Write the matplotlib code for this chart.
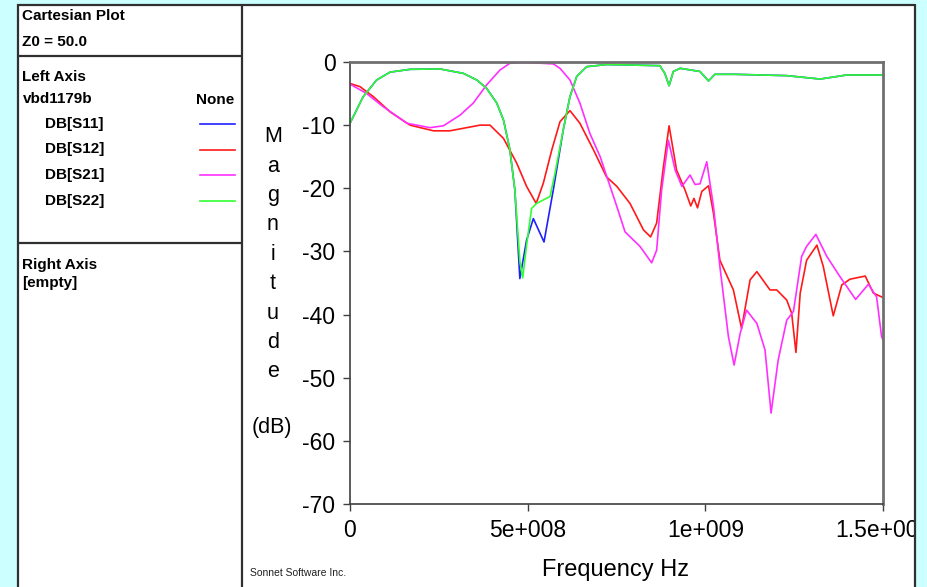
import matplotlib
matplotlib.use('Agg')
import matplotlib.pyplot as plt
from matplotlib.patches import Rectangle
from matplotlib.lines import Line2D
import numpy as np

# ---------------- data (frequency in GHz, magnitude in dB) ----------------
s11_f = [0, 0.037, 0.075, 0.113, 0.169, 0.253, 0.319, 0.357, 0.385, 0.413, 0.432,
         0.450, 0.464, 0.478, 0.497, 0.516, 0.546, 0.572, 0.600, 0.619, 0.638, 0.666,
         0.722, 0.872, 0.886, 0.898, 0.910, 0.929, 0.985, 1.009, 1.027, 1.083, 1.229,
         1.323, 1.398, 1.5]
s11_db = [-9.7, -5.5, -2.85, -1.6, -1.16, -1.1, -1.8, -2.85, -4.2, -6.5, -9.2,
          -13.9, -20.3, -34.3, -28.2, -24.8, -28.5, -20.3, -10.8, -5.5, -2.3, -0.74,
          -0.4, -0.58, -1.8, -3.75, -1.5, -1.0, -1.5, -3.0, -1.95, -1.95, -2.16,
          -2.7, -2.06, -2.06]

s12_f = [0, 0.028, 0.066, 0.113, 0.169, 0.235, 0.281, 0.366, 0.394, 0.432, 0.469,
         0.497, 0.524, 0.544, 0.568, 0.591, 0.619, 0.647, 0.685, 0.722, 0.751, 0.788,
         0.826, 0.846, 0.863, 0.882, 0.898, 0.919, 0.943, 0.959, 0.968, 0.978, 0.990,
         1.009, 1.023, 1.041, 1.079, 1.102, 1.126, 1.145, 1.182, 1.201, 1.229, 1.243,
         1.255, 1.267, 1.285, 1.314, 1.332, 1.360, 1.384, 1.407, 1.450, 1.473, 1.5]
s12_db = [-3.4, -3.9, -5.5, -7.9, -10.0, -10.9, -10.9, -10.0, -10.0, -12.1, -16.0,
          -19.7, -22.4, -19.2, -13.9, -9.45, -7.7, -9.7, -13.9, -18.2, -19.7, -22.4,
          -26.6, -27.7, -25.5, -16.6, -10.1, -17.1, -20.3, -22.8, -21.6, -23.1, -20.5,
          -19.6, -24.0, -31.4, -36.1, -42.2, -34.5, -33.2, -36.1, -36.1, -37.7, -39.8,
          -46.0, -36.6, -31.4, -29.0, -32.4, -40.2, -35.3, -34.4, -33.9, -36.6, -37.3]

s21_f = [0, 0.047, 0.094, 0.160, 0.225, 0.263, 0.310, 0.347, 0.385, 0.422, 0.450,
         0.488, 0.572, 0.591, 0.619, 0.647, 0.675, 0.704, 0.732, 0.751, 0.774, 0.816,
         0.849, 0.863, 0.877, 0.896, 0.915, 0.934, 0.957, 0.971, 0.985, 1.004, 1.023,
         1.041, 1.065, 1.081, 1.098, 1.116, 1.145, 1.168, 1.185, 1.205, 1.229, 1.248,
         1.271, 1.285, 1.311, 1.342, 1.379, 1.423, 1.459, 1.482, 1.496, 1.5]
s21_db = [-3.5, -5.0, -7.1, -9.7, -10.4, -10.1, -8.4, -6.5, -3.6, -1.27, -0.2,
          -0.05, -0.3, -1.0, -2.85, -6.5, -11.3, -15.0, -19.7, -22.9, -26.9, -29.2,
          -31.8, -29.8, -20.3, -12.4, -17.1, -19.7, -17.9, -19.4, -19.3, -15.8, -22.9,
          -32.4, -43.5, -48.0, -43.0, -39.3, -41.4, -45.6, -55.6, -47.2, -40.9, -39.5,
          -30.8, -29.2, -27.3, -30.8, -34.0, -37.6, -35.2, -37.2, -43.5, -44.0]

s22_f = [0, 0.037, 0.075, 0.113, 0.169, 0.253, 0.319, 0.357, 0.385, 0.413, 0.432,
         0.450, 0.464, 0.478, 0.486, 0.497, 0.511, 0.525, 0.563, 0.577, 0.600, 0.619,
         0.638, 0.666, 0.722, 0.872, 0.886, 0.898, 0.910, 0.929, 0.985, 1.009, 1.027,
         1.083, 1.229, 1.323, 1.398, 1.5]
s22_db = [-9.7, -5.5, -2.85, -1.6, -1.16, -1.1, -1.8, -2.85, -4.2, -6.5, -9.2,
          -13.9, -20.3, -31.5, -34.2, -29.0, -23.2, -22.4, -21.3, -17.6, -10.8, -5.5,
          -2.3, -0.74, -0.4, -0.58, -1.8, -3.75, -1.5, -1.0, -1.5, -3.0, -1.95,
          -1.95, -2.16, -2.7, -2.06, -2.06]

series_names = ['DB[S11]', 'DB[S12]', 'DB[S21]', 'DB[S22]']
series_colors = ['#2020ff', '#ff1a1a', '#ff30ff', '#30ff30']

x_ticks = [0, 5e8, 1e9, 1.5e9]
x_tick_labels = ['0', '5e+008', '1e+009', '1.5e+009']
y_ticks = [0, -10, -20, -30, -40, -50, -60, -70]
y_tick_labels = ['0', '-10', '-20', '-30', '-40', '-50', '-60', '-70']

# ---------------- layout ----------------
W, H = 927, 587
fig = plt.figure(figsize=(W / 100, H / 100), dpi=100)
fig.patch.set_facecolor('#ccffff')
plt.rcParams['font.family'] = ['Liberation Sans', 'DejaVu Sans']


def fx(px):
    return px / W


def fy(py):
    return 1 - py / H


# white panel
fig.add_artist(Rectangle((fx(17), 0), fx(915) - fx(17), fy(4), transform=fig.transFigure,
                         facecolor='white', edgecolor='none', zorder=-5))

ax = fig.add_axes([fx(350), fy(504), fx(883) - fx(350), (504 - 62) / H])
ax.set_facecolor('none')

series = [(s11_f, s11_db), (s12_f, s12_db), (s21_f, s21_db), (s22_f, s22_db)]
for (f, d), c in zip(series, series_colors):
    ax.plot(np.array(f) * 1e9, d, color=c, lw=1.2, solid_joinstyle='round')

ax.set_xlim(0, 1.5e9)
ax.set_ylim(-70, 0)
ax.set_xticks(x_ticks)
ax.set_xticklabels(x_tick_labels)
ax.set_yticks(y_ticks)
ax.set_yticklabels(y_tick_labels)
ax.tick_params(direction='out', length=5, width=1, colors='#404040', labelsize=16.5,
               labelcolor='black', pad=5.5)
for s in ['left', 'bottom']:
    ax.spines[s].set_color('#404040')
    ax.spines[s].set_linewidth(1.2)
for s in ['top', 'right']:
    ax.spines[s].set_color('#707070')
    ax.spines[s].set_linewidth(2)

# y axis label, stacked letters
for i, ch in enumerate('Magnitude'):
    fig.text(fx(273), fy(136.7 + i * 29.4), ch, ha='center', va='center', fontsize=15.5)
fig.text(fx(272), fy(428), '(dB)', ha='center', va='center', fontsize=15.5)

fig.text(fx(616), fy(576), 'Frequency Hz', ha='center', va='baseline', fontsize=17)
fig.text(fx(250), fy(573), 'Sonnet Software Inc.', ha='left', va='center', fontsize=7.5,
         color='#202020')

# legend panel texts
bold = dict(fontsize=11, fontweight='bold', va='center', color='black')
fig.text(fx(22.5), fy(16), 'Cartesian Plot', ha='left', **bold)
fig.text(fx(22.5), fy(42), 'Z0 = 50.0', ha='left', **bold)
fig.text(fx(22.5), fy(77.5), 'Left Axis', ha='left', **bold)
fig.text(fx(22.5), fy(99), 'vbd1179b', ha='left', **bold)
fig.text(fx(234), fy(100), 'None', ha='right', **bold)
leg_y = [124, 149.5, 175, 200.7]
for name, c, y in zip(series_names, series_colors, leg_y):
    fig.text(fx(45.5), fy(y), name, ha='left', **bold)
    fig.add_artist(Line2D([fx(199.5), fx(234.5)], [fy(y), fy(y)], transform=fig.transFigure,
                          color=c, lw=1.2))
fig.text(fx(22.5), fy(264.5), 'Right Axis', ha='left', **bold)
fig.text(fx(22.5), fy(283.5), '[empty]', ha='left', **bold)

# cyan strip on the right that clips the last tick label
fig.add_artist(Rectangle((fx(915), 0), fx(W) - fx(915), 1, transform=fig.transFigure,
                         facecolor='#ccffff', edgecolor='none', zorder=5))

# panel borders
def fline(x0, y0, x1, y1, color='#303030', lw=1.6):
    fig.add_artist(Line2D([fx(x0), fx(x1)], [fy(y0), fy(y1)], transform=fig.transFigure,
                          color=color, lw=lw, zorder=6, solid_capstyle='butt'))

fline(17.5, 4, 17.5, 587)
fline(17, 4.5, 915, 4.5)
fline(914.5, 4, 914.5, 587)
fline(241.5, 4, 241.5, 587)
fline(17, 56, 241.5, 56)
fline(17, 243.5, 241.5, 243.5)

fig.savefig('out.png', dpi=100, facecolor=fig.get_facecolor())
